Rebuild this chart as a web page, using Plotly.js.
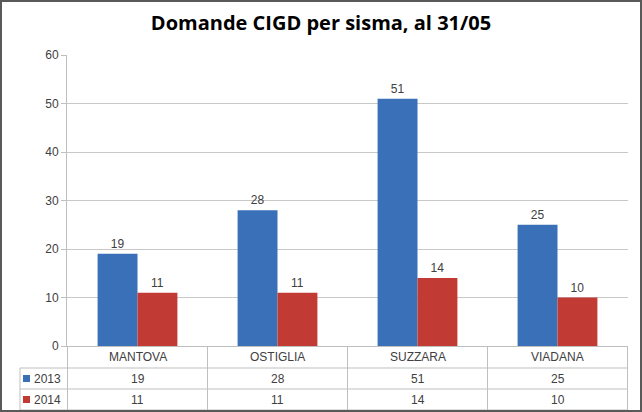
<!DOCTYPE html>
<html>
<head>
<meta charset="utf-8">
<script src="https://cdn.plot.ly/plotly-3.0.1.min.js"></script>
<style>html,body{margin:0;padding:0;background:#fff;}#chart{width:642px;height:412px;}</style>
</head>
<body>
<div id="chart"></div>
<script>
var categories = ["MANTOVA", "OSTIGLIA", "SUZZARA", "VIADANA"];
var seriesNames = ["2013", "2014"];
var values2013 = [19, 28, 51, 25];
var values2014 = [11, 11, 14, 10];
var yTicks = [0, 10, 20, 30, 40, 50, 60];

var W = 642, H = 412, mL = 67, mR = 14, mT = 55, mB = 66;
var pw = W - mL - mR, ph = H - mT - mB;
function px(x) { return (x - mL) / pw; }
function py(y) { return (H - mB - y) / ph; }

var blue = "#3a70b8", red = "#c23a34";
var txtColor = "#404040";
var font = "Liberation Sans, Arial, sans-serif";

var traces = [
  {type: "bar", name: seriesNames[0], x: categories, y: values2013,
   marker: {color: blue, line: {width: 0}},
   text: values2013.map(String), textposition: "outside", cliponaxis: false,
   textfont: {family: font, size: 12, color: txtColor}},
  {type: "bar", name: seriesNames[1], x: categories, y: values2014,
   marker: {color: red, line: {width: 0}},
   text: values2014.map(String), textposition: "outside", cliponaxis: false,
   textfont: {family: font, size: 12, color: txtColor}}
];

var gridC = "#bfbfbf";
var shapes = [];
var annotations = [];
var rowY = [py(346), py(368), py(389), py(410)];
var leftX = px(20);
// horizontal table lines
shapes.push({type: "line", xref: "paper", yref: "paper", x0: leftX, x1: 1, y0: rowY[1], y1: rowY[1], line: {color: gridC, width: 1}});
shapes.push({type: "line", xref: "paper", yref: "paper", x0: leftX, x1: 1, y0: rowY[2], y1: rowY[2], line: {color: gridC, width: 1}});
shapes.push({type: "line", xref: "paper", yref: "paper", x0: leftX, x1: 1, y0: rowY[3], y1: rowY[3], line: {color: gridC, width: 1}});
// left table edge
shapes.push({type: "line", xref: "paper", yref: "paper", x0: leftX, x1: leftX, y0: rowY[1], y1: rowY[3], line: {color: gridC, width: 1}});
// vertical category separators
for (var i = 0; i <= categories.length; i++) {
  shapes.push({type: "line", xref: "x", yref: "paper", x0: i - 0.5, x1: i - 0.5, y0: 0, y1: rowY[3], line: {color: gridC, width: 1}});
}
// legend keys
var keyColors = [blue, red];
for (var r = 0; r < 2; r++) {
  var cy = py(r === 0 ? 378.5 : 399.5);
  shapes.push({type: "rect", xref: "paper", yref: "paper", x0: px(23), x1: px(30), y0: cy - 3.5 / ph, y1: cy + 3.5 / ph, fillcolor: keyColors[r], line: {width: 0}});
  annotations.push({xref: "paper", yref: "paper", x: px(32), y: cy, xanchor: "left", yanchor: "middle", text: seriesNames[r], showarrow: false, font: {family: font, size: 12, color: txtColor}});
}
// category labels and values
var rowsVals = [values2013, values2014];
for (var c = 0; c < categories.length; c++) {
  annotations.push({xref: "x", yref: "paper", x: c, y: py(357), yanchor: "middle", text: categories[c], showarrow: false, font: {family: font, size: 12, color: txtColor}});
  for (var r2 = 0; r2 < 2; r2++) {
    annotations.push({xref: "x", yref: "paper", x: c, y: py(r2 === 0 ? 378.5 : 399.5), yanchor: "middle", text: String(rowsVals[r2][c]), showarrow: false, font: {family: font, size: 12, color: txtColor}});
  }
}
// outer border
shapes.push({type: "rect", xref: "paper", yref: "paper", x0: px(1), x1: px(641), y0: py(411), y1: py(1), line: {color: "#595959", width: 2}, fillcolor: "rgba(0,0,0,0)"});

var layout = {
  width: W, height: H,
  margin: {l: mL, r: mR, t: mT, b: mB, pad: 0},
  paper_bgcolor: "#ffffff", plot_bgcolor: "#ffffff",
  showlegend: false,
  barmode: "group", bargap: 0.43, bargroupgap: 0,
  title: {text: "<b>Domande CIGD per sisma, al 31/05</b>", x: 0.5, xref: "container", xanchor: "center", y: 1 - 23 / H, yanchor: "middle",
          font: {family: "Open Sans, sans-serif", size: 20, color: "#000000"}},
  xaxis: {showticklabels: false, ticks: "", showgrid: false, showline: true, linecolor: gridC, linewidth: 1, zeroline: false, fixedrange: true},
  yaxis: {range: [0, 60], tickvals: yTicks, ticktext: yTicks.map(String), showgrid: true, gridcolor: "#c8c8c8", gridwidth: 1,
          showline: true, linecolor: gridC, linewidth: 1, ticks: "outside", ticklen: 5, tickcolor: gridC,
          zeroline: false, tickfont: {family: font, size: 12, color: txtColor}},
  shapes: shapes,
  annotations: annotations
};

Plotly.newPlot("chart", traces, layout, {displayModeBar: false, staticPlot: true});
</script>
</body>
</html>
